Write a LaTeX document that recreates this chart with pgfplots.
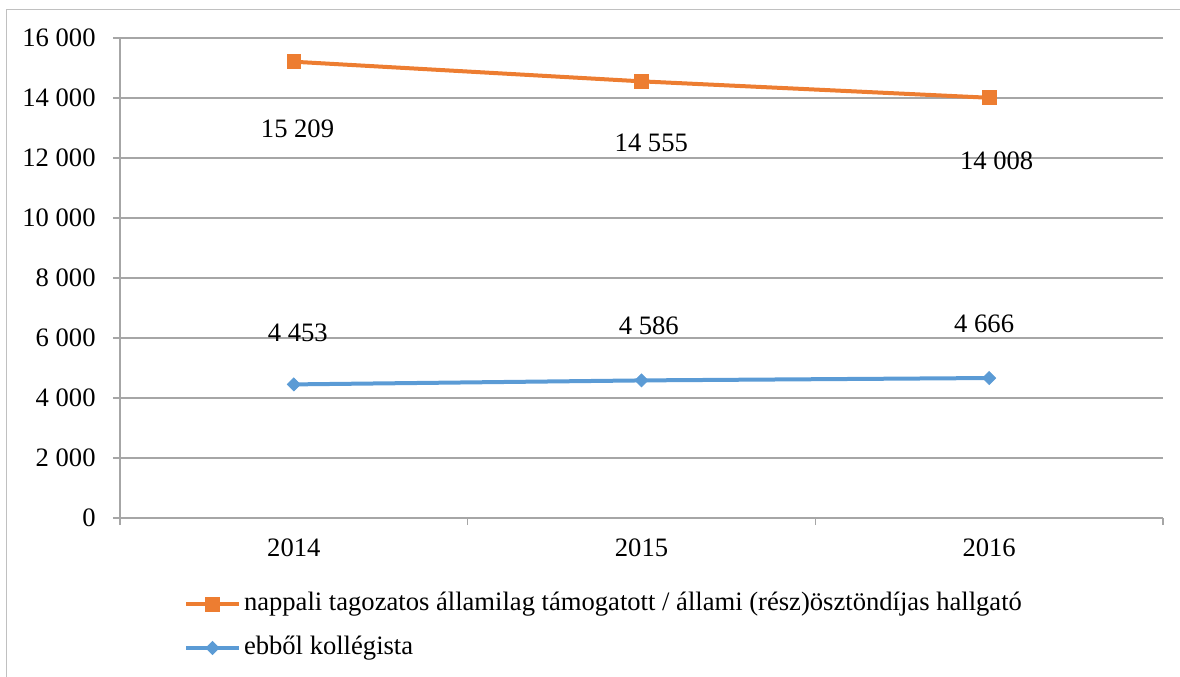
\documentclass[border=0pt]{standalone}
\usepackage{fontspec}
\setmainfont{Liberation Serif}
\usepackage{pgfplots}
\usepackage{pgfplotstable}
\pgfplotsset{compat=1.18}
\pgfkeys{/pgf/number format/.cd, 1000 sep={\ }, assume math mode=true}

\definecolor{orangeS}{HTML}{ED7D31}
\definecolor{blueS}{HTML}{5B9BD5}
\definecolor{gridgray}{HTML}{A6A6A6}
\definecolor{framegray}{HTML}{C0C0C0}
\newcommand\cf{\fontsize{13.3bp}{15.5bp}\selectfont}

% x = category index, dx/dy = label offset (bp)
\pgfplotstableread{
x y dx dy
0 15209 1.85 -33.3
1 14555 4.9 -30.6
2 14008 3.75 -31.5
}\nappali
\pgfplotstableread{
x y dx dy
0 4453 2.0 26.0
1 4586 3.65 27.3
2 4666 -2.5 26.9
}\kollegista

\begin{document}
\begin{tikzpicture}
\path[use as bounding box] (-60bp,-79.5bp) rectangle (530bp,259bp);
\draw[framegray, line width=0.5bp] (-56.5bp,-90bp) -- (-56.5bp,254bp) -- (540bp,254bp);
\begin{axis}[
    at={(0,0)}, anchor=south west,
    scale only axis,
    width=521.5bp, height=240bp,
    xmin=-0.5, xmax=2.5,
    ymin=0, ymax=16000,
    axis x line*=bottom, axis y line*=left,
    axis line style={gridgray, line width=0.75bp},
    xtick={-0.5,0.5,1.5,2.5}, xticklabels={},
    extra x ticks={0,1,2},
    extra x tick labels={2014,2015,2016},
    extra x tick style={major tick length=0pt,
        tick label style={inner sep=0pt, anchor=north, yshift=-10bp}},
    ytick={0,2000,...,16000},
    scaled y ticks=false,
    tick align=outside,
    major tick length=3.5bp,
    tick style={gridgray, line width=0.75bp},
    ymajorgrids,
    grid style={gridgray, line width=0.75bp},
    yticklabel style={inner sep=0pt, anchor=east, xshift=-8.5bp},
    tick label style={font=\cf, text=black},
    legend style={at={(rel axis cs:0.0610,-0.225)}, anchor=west,
        draw=none, fill=none, inner sep=0pt, font=\cf, row sep=11bp,
        nodes={inner sep=0pt, text height=8.5bp, text depth=2.5bp}},
    legend cell align=left,
    legend image code/.code={
        \draw[mark repeat=2, mark phase=2, #1]
            plot coordinates {(0bp,0bp) (13.25bp,0bp) (26.5bp,0bp)};
        \path (28bp,0bp);
    },
    visualization depends on={\thisrow{dx} \as \lx},
    visualization depends on={\thisrow{dy} \as \ly},
    nodes near coords,
    every node near coord/.append style={anchor=center, inner sep=0pt,
        font=\cf, text=black, xshift=\lx bp, yshift=\ly bp},
]
\addplot[orangeS, line width=2bp, mark=square*,
    mark options={solid, line width=0.4bp}, mark size=3.45bp]
    table[x=x, y=y] {\nappali};
\addlegendentry{nappali tagozatos államilag támogatott / állami (rész)ösztöndíjas hallgató}
\addplot[blueS, line width=2bp, mark=square*,
    mark options={solid, rotate=45, line width=0.4bp}, mark size=2.3bp]
    table[x=x, y=y] {\kollegista};
\addlegendentry{ebből kollégista}
\end{axis}
\end{tikzpicture}
\end{document}
